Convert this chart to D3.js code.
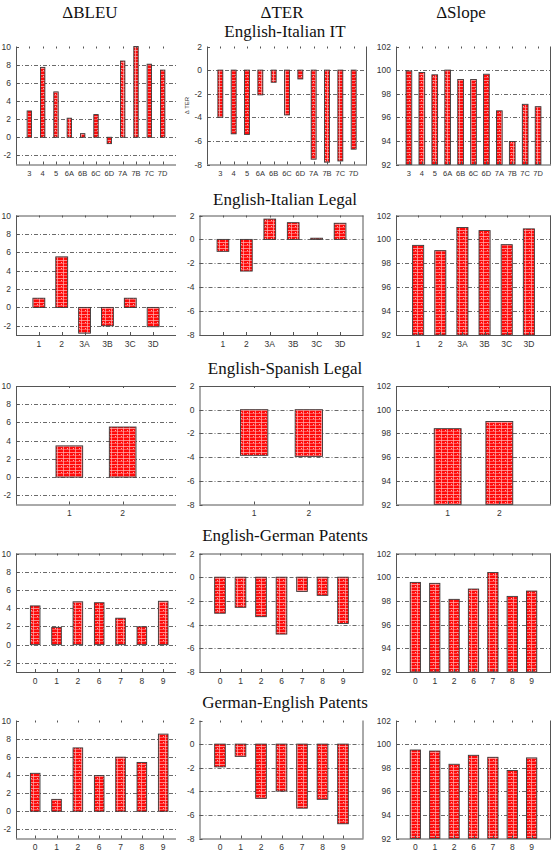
<!DOCTYPE html>
<html><head><meta charset="utf-8">
<script src="https://cdn.jsdelivr.net/npm/d3@7"></script>
<style>body{margin:0;background:#fff}svg{display:block}</style>
</head><body>
<script>
// ---------- DATA ----------
const colTitles = ["\u0394BLEU", "\u0394TER", "\u0394Slope"];
const rowTitles = ["English-Italian IT", "English-Italian Legal", "English-Spanish Legal", "English-German Patents", "German-English Patents"];

const catsIT = ["3","4","5","6A","6B","6C","6D","7A","7B","7C","7D"];
const bleuIT = [2.9, 7.7, 5.0, 2.1, 0.4, 2.5, -0.7, 8.4, 10.0, 8.05, 7.4];
const terIT = [-4.0, -5.4, -5.45, -2.1, -1.03, -3.8, -0.75, -7.55, -7.8, -7.7, -6.7];
const slopeIT = [99.93, 99.8, 99.6, 100.0, 99.2, 99.2, 99.65, 96.55, 93.95, 97.1, 96.9];

const catsItLegal = ["1","2","3A","3B","3C","3D"];
const bleuItLegal = [1.0, 5.5, -2.8, -2.0, 1.0, -2.1];
const terItLegal = [-1.0, -2.65, 1.7, 1.4, 0.1, 1.35];
const slopeItLegal = [99.5, 99.06, 101.0, 100.74, 99.56, 100.88];

const catsEsLegal = ["1","2"];
const bleuEsLegal = [3.43, 5.5];
const terEsLegal = [-3.85, -3.94];
const slopeEsLegal = [98.4, 99.0];

const catsEnDe = ["0","1","2","6","7","8","9"];
const bleuEnDe = [4.25, 1.9, 4.7, 4.6, 2.9, 1.96, 4.76];
const terEnDe = [-3.04, -2.54, -3.33, -4.8, -1.2, -1.53, -3.91];
const slopeEnDe = [99.56, 99.48, 98.13, 99.0, 100.4, 98.38, 98.83];

const catsDeEn = ["0","1","2","6","7","8","9"];
const bleuDeEn = [4.18, 1.31, 6.98, 3.93, 5.96, 5.38, 8.5];
const terDeEn = [-1.93, -1.04, -4.6, -3.98, -5.43, -4.68, -6.75];
const slopeDeEn = [99.5, 99.41, 98.29, 99.05, 98.88, 97.76, 98.83];

const bleuTicks = [-2, 0, 2, 4, 6, 8, 10];
const terTicks = [-8, -6, -4, -2, 0, 2];
const slopeTicks = [92, 94, 96, 98, 100, 102];

// ---------- LAYOUT ----------
const W = 553, H = 851;
const rowBox = [
  {top: 46.5, bottom: 164.5, topBorder: false, barW: [0.33, 0.37, 0.44], xFont: 7.5},
  {top: 215.5, bottom: 335, topBorder: true, barW: [0.52, 0.5, 0.5], xFont: 8.5},
  {top: 386, bottom: 504.5, topBorder: true, barW: [0.5, 0.5, 0.52], xFont: 8.5},
  {top: 553.5, bottom: 672, topBorder: true, barW: [0.45, 0.52, 0.53], xFont: 8.5},
  {top: 720.5, bottom: 838.5, topBorder: false, barW: [0.45, 0.52, 0.53], xFont: 8.5}
];
const colBox = [
  {left: 16, right: 176, rightBorder: false},
  {left: 199.5, right: 363.5, rightBorder: true},
  {left: 396, right: 551, rightBorder: true}
];
const titleY = [37, 205, 374, 541, 708];

const rows = [
  {cats: catsIT, vals: [bleuIT, terIT, slopeIT]},
  {cats: catsItLegal, vals: [bleuItLegal, terItLegal, slopeItLegal]},
  {cats: catsEsLegal, vals: [bleuEsLegal, terEsLegal, slopeEsLegal]},
  {cats: catsEnDe, vals: [bleuEnDe, terEnDe, slopeEnDe]},
  {cats: catsDeEn, vals: [bleuDeEn, terDeEn, slopeDeEn]}
];
const yDomains = [[-3, 10], [-8, 2], [92, 102]];
const yTicks = [bleuTicks, terTicks, slopeTicks];

const svg = d3.select("body").append("svg").attr("width", W).attr("height", H)
  .attr("font-family", "'Liberation Sans', Arial, sans-serif");

// bar texture
const defs = svg.append("defs");
const pat = defs.append("pattern").attr("id", "tex").attr("patternUnits", "userSpaceOnUse")
  .attr("width", 6).attr("height", 6);
pat.append("rect").attr("width", 6).attr("height", 6).attr("fill", "#ff0a0a");
pat.append("rect").attr("x", 0).attr("y", 2).attr("width", 6).attr("height", 1).attr("fill", "#ff9c9c").attr("opacity", 0.85);
pat.append("rect").attr("x", 0).attr("y", 5).attr("width", 6).attr("height", 1).attr("fill", "#ffb4b4").attr("opacity", 0.45);
pat.append("rect").attr("x", 3).attr("y", 0).attr("width", 1).attr("height", 6).attr("fill", "#ffb0b0").attr("opacity", 0.7);
pat.append("rect").attr("x", 1).attr("y", 4).attr("width", 1).attr("height", 1).attr("fill", "#ffd0d0").attr("opacity", 0.8);

// column headers & row titles
const colCx = [90, 282, 461];
colTitles.forEach((t, i) => {
  svg.append("text").attr("x", colCx[i]).attr("y", 18).attr("text-anchor", "middle")
    .attr("font-family", "'Liberation Serif', 'DejaVu Serif', serif").attr("font-size", 17)
    .attr("fill", "#111").text(t);
});
rowTitles.forEach((t, i) => {
  svg.append("text").attr("x", 285).attr("y", titleY[i]).attr("text-anchor", "middle")
    .attr("font-family", "'Liberation Serif', 'DejaVu Serif', serif").attr("font-size", 17)
    .attr("fill", "#111").text(t);
});

rows.forEach((row, ri) => {
  const rb = rowBox[ri];
  row.vals.forEach((vals, ci) => {
    const cb = colBox[ci];
    let left = cb.left, right = cb.right;
    if (ri === 0 && ci === 1) { left = 207; right = 367; }
    const n = row.cats.length;
    let xd = [-1, n];
    if (ci === 0 && n === 7) xd = [-0.9, 6.6];
    const x = d3.scaleLinear().domain(xd).range([left, right]);
    const y = d3.scaleLinear().domain(yDomains[ci]).range([rb.bottom, rb.top]);
    const g = svg.append("g");
    const ticks = yTicks[ci];
    const base = ci === 2 ? 92 : 0;

    // grid lines
    g.selectAll(".grid").data(ticks.filter(t => t !== yDomains[ci][0] && t !== yDomains[ci][1]))
      .join("line")
      .attr("x1", left).attr("x2", right)
      .attr("y1", d => Math.round(y(d)) + 0.5).attr("y2", d => Math.round(y(d)) + 0.5)
      .attr("stroke", "#444").attr("stroke-width", 0.8).attr("stroke-dasharray", "4,2,1,2");

    // bars
    const bw = rb.barW[ci] * (x(1) - x(0));
    g.selectAll(".bar").data(vals).join("rect")
      .attr("x", (d, i) => x(i) - bw / 2)
      .attr("y", d => y(Math.max(d, base)))
      .attr("width", bw)
      .attr("height", d => Math.max(1, Math.abs(y(d) - y(base))))
      .attr("fill", "url(#tex)")
      .attr("stroke", "#3a3a3a").attr("stroke-width", 0.9);

    // borders
    const bc = "#555";
    g.append("line").attr("x1", left + 0.5).attr("x2", left + 0.5).attr("y1", rb.top).attr("y2", rb.bottom).attr("stroke", bc);
    g.append("line").attr("x1", left).attr("x2", right).attr("y1", rb.bottom + 0.5).attr("y2", rb.bottom + 0.5).attr("stroke", bc);
    if (rb.topBorder) g.append("line").attr("x1", left).attr("x2", right).attr("y1", rb.top + 0.5).attr("y2", rb.top + 0.5).attr("stroke", bc);
    if (cb.rightBorder) g.append("line").attr("x1", right - 0.5).attr("x2", right - 0.5).attr("y1", rb.top).attr("y2", rb.bottom).attr("stroke", bc);

    // x ticks (bottom and mirrored top)
    g.selectAll(".xt").data(row.cats).join("line")
      .attr("x1", (d, i) => Math.round(x(i)) + 0.5).attr("x2", (d, i) => Math.round(x(i)) + 0.5)
      .attr("y1", rb.bottom).attr("y2", rb.bottom - 3).attr("stroke", bc);
    g.selectAll(".xtt").data(row.cats).join("line")
      .attr("x1", (d, i) => Math.round(x(i)) + 0.5).attr("x2", (d, i) => Math.round(x(i)) + 0.5)
      .attr("y1", rb.top).attr("y2", rb.top + 2).attr("stroke", bc);
    // y ticks
    g.selectAll(".yt").data(ticks).join("line")
      .attr("x1", left).attr("x2", left + 3)
      .attr("y1", d => Math.round(y(d)) + 0.5).attr("y2", d => Math.round(y(d)) + 0.5).attr("stroke", bc);

    // labels
    g.selectAll(".xl").data(row.cats).join("text")
      .attr("x", (d, i) => x(i)).attr("y", rb.bottom + 11.5)
      .attr("text-anchor", "middle").attr("font-size", rb.xFont).attr("fill", "#333").text(d => d);
    g.selectAll(".yl").data(ticks).join("text")
      .attr("x", left - 5).attr("y", d => y(d) + 3)
      .attr("text-anchor", "end").attr("font-size", 8.5).attr("fill", "#333").text(d => d);

    if (ri === 0 && ci === 1) {
      svg.append("text").attr("transform", `translate(189,${(rb.top + rb.bottom) / 2}) rotate(-90)`)
        .attr("text-anchor", "middle").attr("font-size", 6).attr("fill", "#333").text("\u0394 TER");
    }
  });
});
</script>
</body></html>
